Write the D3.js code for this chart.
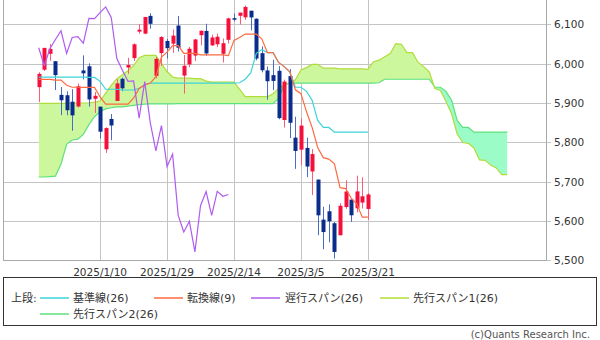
<!DOCTYPE html>
<html><head><meta charset="utf-8">
<script src="https://cdn.jsdelivr.net/npm/d3@7"></script>
<style>body{margin:0;background:#fff}svg{display:block}</style>
</head><body><svg id="c" width="600" height="340"></svg>
<script>
const dates = ["2024/12/23","2024/12/24","2024/12/26","2024/12/27","2024/12/30","2024/12/31",
"2025/1/2","2025/1/3","2025/1/6","2025/1/7","2025/1/8","2025/1/10","2025/1/13","2025/1/14","2025/1/15","2025/1/16","2025/1/17","2025/1/21","2025/1/22","2025/1/23","2025/1/24","2025/1/27","2025/1/28","2025/1/29","2025/1/30","2025/1/31",
"2025/2/3","2025/2/4","2025/2/5","2025/2/6","2025/2/7","2025/2/10","2025/2/11","2025/2/12","2025/2/13","2025/2/14","2025/2/18","2025/2/19","2025/2/20","2025/2/21","2025/2/24","2025/2/25","2025/2/26","2025/2/27","2025/2/28",
"2025/3/3","2025/3/4","2025/3/5","2025/3/6","2025/3/7","2025/3/10","2025/3/11","2025/3/12","2025/3/13","2025/3/14","2025/3/17","2025/3/18","2025/3/19","2025/3/20","2025/3/21"];
const opens = [5940.25,5984.63,6024.97,6006.17,5920.67,5919.74,5903.26,5891.07,5982.81,5993.26,5910.66,5890.67,5782.46,5859.43,5905.21,5961.49,5990.0,6014.12,6081.39,6076.32,6121.43,5969.04,6026.97,6057.70,6050.75,6096.79,5969.65,5998.14,6020.45,6072.22,6083.13,6046.40,6049.32,6025.08,6060.59,6115.52,6121.60,6117.76,6134.50,6114.10,6026.69,5982.73,5970.87,5981.88,5856.74,5968.33,5811.98,5781.41,5785.87,5726.01,5705.37,5603.65,5624.84,5594.45,5563.85,5635.60,5654.53,5632.37,5646.92,5630.73];
const highs = [5978.25,6040.10,6049.75,6006.17,5940.79,5929.74,5935.09,5949.34,6021.04,6000.68,5927.89,5891.00,5838.30,5871.92,5960.61,5964.69,6014.96,6051.51,6100.81,6118.73,6128.18,6017.17,6069.90,6062.83,6086.64,6120.91,6022.13,6042.48,6062.86,6084.03,6101.28,6073.38,6076.28,6063.83,6116.91,6127.47,6129.63,6147.43,6134.50,6114.82,6043.65,5992.65,6009.82,5993.69,5959.40,5986.09,5865.08,5860.59,5812.08,5783.01,5705.37,5636.30,5642.19,5597.78,5645.27,5703.52,5654.53,5715.33,5711.15,5670.84];
const lows = [5902.57,5981.44,6007.37,5932.95,5869.16,5868.86,5829.53,5888.66,5960.01,5890.68,5874.78,5809.66,5773.31,5805.60,5905.21,5930.00,5974.00,6006.88,6076.13,6074.67,6088.74,5962.92,5994.30,6012.96,6027.46,6030.93,5923.93,5990.87,6007.06,6046.83,6019.96,6044.84,6042.34,6003.00,6051.01,6107.62,6099.51,6111.15,6084.59,6008.56,5977.83,5908.49,5932.69,5858.78,5837.66,5810.91,5732.59,5742.35,5711.64,5666.29,5564.02,5528.41,5546.09,5504.65,5563.85,5631.12,5597.76,5622.20,5632.09,5603.10];
const closes = [5974.07,6040.04,6037.59,5970.84,5906.94,5881.63,5868.55,5942.47,5975.38,5909.03,5918.25,5827.04,5836.22,5842.91,5949.91,5937.34,5996.66,6049.24,6086.37,6118.71,6101.24,6012.28,6067.70,6039.31,6071.17,6040.53,5994.57,6037.88,6061.48,6083.57,6025.99,6066.44,6068.50,6051.97,6115.07,6114.63,6129.58,6144.15,6117.52,6013.13,5983.25,5955.25,5956.06,5861.57,5954.50,5849.72,5778.15,5842.63,5738.52,5770.20,5614.56,5572.07,5599.30,5521.52,5638.94,5675.12,5614.66,5675.29,5662.89,5667.56];
// 転換線(9), one value per candle
const tenkan = [5960,5960,5960,5958,5958,5945,5940,5940,5939.6,5939.6,5939.6,5915.4,5897.2,5897.2,5897.2,5897.2,5897.2,5912.4,5937.1,5946.0,5950.7,5966.9,6016.6,6029.1,6045.6,6045.6,6026.1,6026.1,6026.1,6022.4,6022.4,6022.4,6022.4,6022.4,6020.4,6059.2,6066.3,6075.2,6075.2,6075.2,6062.6,6028.0,6028.0,6003.1,5992.5,5979.2,5933.5,5923.7,5877.6,5838.1,5786.9,5761.1,5757.3,5745.4,5684.9,5682.6,5658.4,5643.8,5610.0,5610.0];
// 基準線(26), one value per candle
const kijun = [5966,5966,5966,5966,5966,5966,5966,5966,5966,5965,5965,5955,5935,5935,5935,5933,5933,5933,5937,5946,5950.75,5950.75,5950.75,5950.75,5950.75,5950.75,5950.75,5950.75,5950.75,5950.75,5950.75,5950.75,5950.75,5950.75,5950.75,5950.75,5951.5,5960.4,5976.5,6026.2,6035.7,6028,6028,6003.1,5992.5,5979.2,5940,5940,5929.5,5906.9,5855.7,5837.9,5837.9,5826,5826,5826,5826,5826,5826,5826];
// 遅行スパン(26), plotted from the first candle slot
const chikou = [6040.53,5994.57,6037.88,6061.48,6083.57,6025.99,6066.44,6068.50,6051.97,6115.07,6114.63,6129.58,6144.15,6117.52,6013.13,5983.25,5955.25,5956.06,5861.57,5954.50,5849.72,5778.15,5842.63,5738.52,5770.20,5614.56,5572.07,5599.30,5521.52,5638.94,5675.12,5614.66,5675.29,5662.89,5667.56];
// 先行スパン1 / 2, plotted from the first candle slot, extending into the future
const spanA = [5899,5899,5899,5899,5899,5899,5899,5900,5900,5900,5902,5905,5925,5945,5962,5972,5982,5995,6015,6021,6021,6021,6000,5980,5966,
5963,5963,5963,5962,5962,5955.5,5953,5953,5952.8,5952.8,5952.8,5935.2,5916.1,5916.1,5916.1,5916.1,5916.1,5923.7,5937,5946,5950.7,5958.8,5983.7,5989.9,5998.2,5998.2,5988.4,5988.4,5988.4,5986.6,5986.6,5986.6,5986.6,5986.6,5985.6,6005.0,6008.9,6017.8,6025.9,6050.7,6049.2,6028,6028,6003.1,5992.5,5979.2,5936.8,5931.9,5903.6,5872.5,5821.3,5799.5,5797.6,5785.7,5755.5,5754.3,5742.2,5734.9,5718,5718];
const spanB = [5712,5712,5713,5714,5745,5795,5806,5808,5820,5845,5865,5878,5885,5888,5890,5890,5892,5894,5896,5897,5898,5898,5898,5898,5898,
5898.2,5898.2,5898.2,5898.2,5898.2,5898.2,5898.2,5898.2,5898.2,5898.2,5898.2,5898.2,5898.2,5898.2,5898.2,5898.2,5898.2,5898.2,5911.5,5946,5950.75,5950.75,5950.75,5950.75,5950.75,5950.75,5950.75,5950.75,5950.75,5950.75,5950.75,5950.75,5950.75,5950.75,5950.75,5950.75,5951.5,5960.4,5960.4,5960.4,5960.4,5960.4,5960.4,5960.4,5960.4,5960.4,5940,5940,5929.5,5906.9,5855.7,5837.9,5837.9,5826,5826,5826,5826,5826,5826,5826];
const tickDates = ["2025/1/10","2025/1/29","2025/2/14","2025/3/5","2025/3/21"];
const yTicks = [5500,5600,5700,5800,5900,6000,6100];
const legendItems = [
  {label:"基準線(26)", color:"#3ed3d8", row:0, lx:40, tx:73},
  {label:"転換線(9)", color:"#ff6a40", row:0, lx:154, tx:187},
  {label:"遅行スパン(26)", color:"#b05cf0", row:0, lx:251, tx:285},
  {label:"先行スパン1(26)", color:"#b2dc3a", row:0, lx:380, tx:413},
  {label:"先行スパン2(26)", color:"#5fe07e", row:1, lx:40, tx:73}
];

const svg = d3.select("#c");
const L = 3, R = 547, T = 0, B = 260.5;
const x = d3.scaleLinear().domain([-6.4, 91.1]).range([L, R]);
const y = d3.scaleLinear().domain([5500, 6100]).range([260.4, 24.3]);
const font = "'DejaVu Sans','Noto Sans CJK JP',sans-serif";

const defs = svg.append("defs");
defs.append("clipPath").attr("id","plot")
  .append("rect").attr("x",L).attr("y",T).attr("width",R-L).attr("height",B-T);

// grid
const grid = svg.append("g");
grid.selectAll("line.h").data(yTicks).join("line")
  .attr("x1",L).attr("x2",R+4)
  .attr("y1",d=>Math.round(y(d))+0.5).attr("y2",d=>Math.round(y(d))+0.5)
  .attr("stroke","#c4c4c4").attr("stroke-width",1);
grid.selectAll("line.v").data(tickDates).join("line")
  .attr("x1",d=>Math.round(x(dates.indexOf(d)))+0.5).attr("x2",d=>Math.round(x(dates.indexOf(d)))+0.5)
  .attr("y1",T).attr("y2",B)
  .attr("stroke","#c4c4c4").attr("stroke-width",1);

const plot = svg.append("g").attr("clip-path","url(#plot)");

// cloud fill
const idxA = spanA.map((v,i)=>i);
const areaAB = d3.area().x(i=>x(i)).y0(i=>y(spanB[i])).y1(i=>y(spanA[i]));
defs.append("clipPath").attr("id","aboveB").append("path")
  .attr("d", d3.area().x(i=>x(i)).y0(0).y1(i=>y(spanB[i]))(idxA));
defs.append("clipPath").attr("id","belowB").append("path")
  .attr("d", d3.area().x(i=>x(i)).y0(340).y1(i=>y(spanB[i]))(idxA));
plot.append("path").attr("d",areaAB(idxA)).attr("fill","#ccf79c").attr("clip-path","url(#aboveB)");
plot.append("path").attr("d",areaAB(idxA)).attr("fill","#9cfcc8").attr("clip-path","url(#belowB)");

const line = arr => d3.line().x((d,i)=>x(i)).y(d=>y(d))(arr);
plot.append("path").attr("d",line(spanB)).attr("fill","none").attr("stroke","#5fe07e").attr("stroke-width",1.2);
plot.append("path").attr("d",line(spanA)).attr("fill","none").attr("stroke","#b2dc3a").attr("stroke-width",1.2);

// candles
const cg = plot.append("g");
const idx = closes.map((v,i)=>i);
cg.selectAll("line.w").data(idx).join("line")
  .attr("x1",i=>Math.round(x(i))+0.5).attr("x2",i=>Math.round(x(i))+0.5)
  .attr("y1",i=>y(highs[i])).attr("y2",i=>y(lows[i]))
  .attr("stroke",i=>closes[i]>opens[i]?"#ff5a78":"#4a6cc4").attr("stroke-width",1);
cg.selectAll("rect").data(idx).join("rect")
  .attr("x",i=>Math.round(x(i))-1.5).attr("width",4)
  .attr("y",i=>y(Math.max(opens[i],closes[i])))
  .attr("height",i=>Math.max(1.5, Math.abs(y(opens[i])-y(closes[i]))))
  .attr("fill",i=>closes[i]>opens[i]?"#f5103c":"#0a2c8c");

// indicator lines
plot.append("path").attr("d",line(kijun)).attr("fill","none").attr("stroke","#3ed3d8").attr("stroke-width",1.2);
plot.append("path").attr("d",line(tenkan)).attr("fill","none").attr("stroke","#ff6a40").attr("stroke-width",1.2);
plot.append("path").attr("d",line(chikou)).attr("fill","none").attr("stroke","#b05cf0").attr("stroke-width",1.2);

// border (left, right, bottom)
svg.append("path").attr("d",`M${L+0.5},${T}V${B}H${R-0.5}V${T}`)
  .attr("fill","none").attr("stroke","#a8a8a8");

// y axis labels
svg.selectAll("text.y").data(yTicks).join("text")
  .attr("x",554).attr("y",d=>y(d)+4)
  .attr("font-family",font).attr("font-size","10.5px").attr("fill","#333")
  .text(d=>d3.format(",")(d));
// x axis labels
svg.selectAll("text.x").data(tickDates).join("text")
  .attr("x",d=>x(dates.indexOf(d))).attr("y",276)
  .attr("text-anchor","middle")
  .attr("font-family",font).attr("font-size","10.5px").attr("fill","#333")
  .text(d=>d);

// legend
svg.append("rect").attr("x",3.5).attr("y",277.5).attr("width",593).attr("height",48)
  .attr("fill","none").attr("stroke","#333");
svg.append("text").attr("x",11).attr("y",302).attr("font-family",font).attr("font-size","11px").attr("fill","#333").text("上段:");
const lg = svg.selectAll("g.lg").data(legendItems).join("g");
lg.append("line").attr("x1",d=>d.lx).attr("x2",d=>d.lx+29)
  .attr("y1",d=>298+d.row*16).attr("y2",d=>298+d.row*16)
  .attr("stroke",d=>d.color).attr("stroke-width",1.5);
lg.append("text").attr("x",d=>d.tx).attr("y",d=>302+d.row*16)
  .attr("font-family",font).attr("font-size","11px").attr("fill","#333").text(d=>d.label);

svg.append("text").attr("x",590).attr("y",338).attr("text-anchor","end")
  .attr("font-family",font).attr("font-size","10px").attr("fill","#555").text("(c)Quants Research Inc.");
</script></body></html>
